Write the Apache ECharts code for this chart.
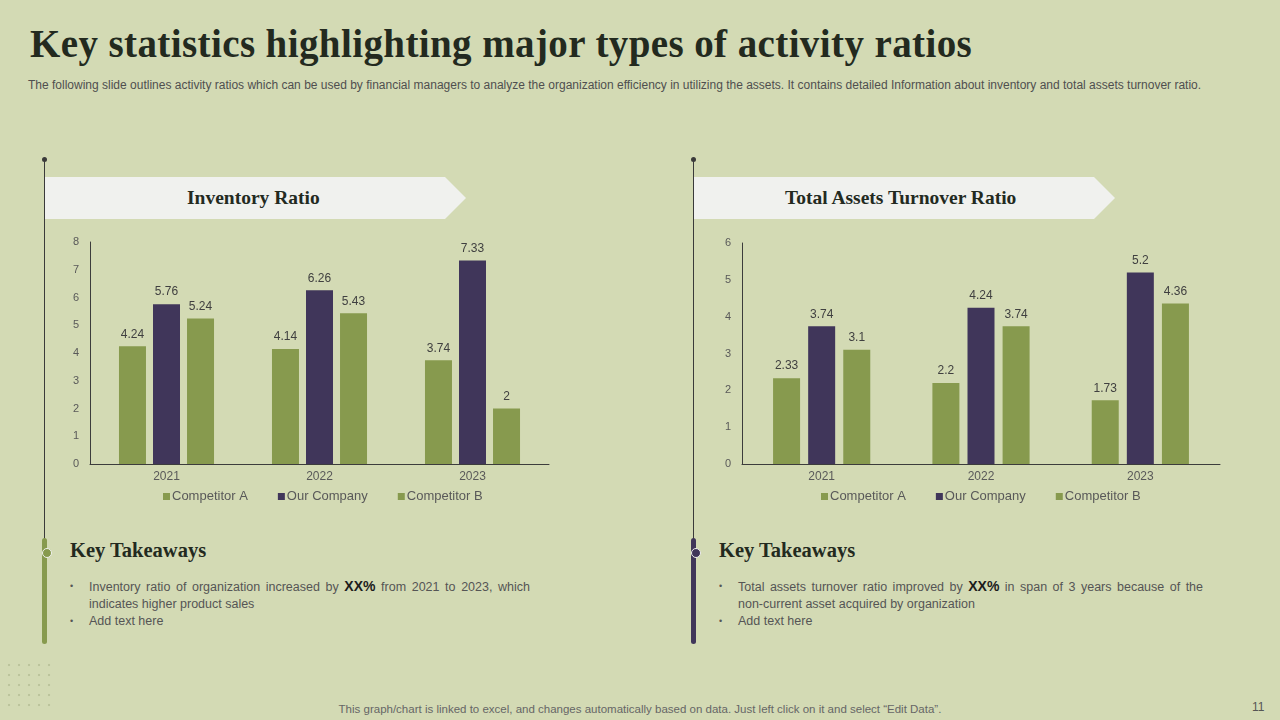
<!DOCTYPE html>
<html>
<head>
<meta charset="utf-8">
<script src="https://cdn.jsdelivr.net/npm/echarts@6/dist/echarts.min.js"></script>
<style>
  html, body { margin: 0; padding: 0; }
  body { width: 1280px; height: 720px; background: #d3dab4; position: relative; overflow: hidden;
         font-family: 'Liberation Sans', Arial, sans-serif; }
  .abs { position: absolute; }
  .serif { font-family: 'Liberation Serif', 'DejaVu Serif', serif; font-weight: bold; color: #232a1f; }
  #title { left: 30px; top: 21px; font-size: 39px; letter-spacing: 0.4px; white-space: nowrap; }
  #subtitle { left: 28px; top: 78px; font-size: 12px; color: #4f4f4f; white-space: nowrap; letter-spacing: 0; }
  .banner { top: 177px; height: 42px; width: 421px; background: #f0f1ee;
            clip-path: polygon(0 0, 400px 0, 421px 50%, 400px 100%, 0 100%); }
  .banner span { position: absolute; top: 10px; font-size: 19.5px; }
  .vline { width: 1px; background: #3a3a3a; top: 160px; height: 385px; }
  .vdot { width: 5px; height: 5px; border-radius: 50%; background: #3a3a3a; top: 157px; }
  .vbar { width: 5px; border-radius: 3px; top: 538px; height: 106px; }
  .kt { top: 539px; font-size: 20.5px; }
  .knob { width: 8px; height: 8px; border-radius: 50%; top: 548px; border: 1px solid #f0f1ee; }
  .bul { top: 578px; font-size: 12.5px; color: #555; line-height: 17px; width: 450px; }
  .bul div { position: relative; padding-left: 19px; text-align: justify; }
  .bul div:before { content: '\2022'; position: absolute; left: 0; font-size: 9px; }
  .bul b { color: #1c1c1c; font-size: 14px; }
  #footer { left: 0; width: 1280px; top: 703px; text-align: center; font-size: 11.5px; color: #666; }
  #pnum { left: 1252px; top: 700px; font-size: 12px; color: #555; }
  #chart { left: 0; top: 0; width: 1280px; height: 720px; }
  .dots { left: 4px; top: 660px; width: 50px; height: 48px;
          background-image: radial-gradient(circle, #bcc49c 1.2px, transparent 1.6px);
          background-size: 10px 10px; }
</style>
</head>
<body>
<div id="title" class="abs serif">Key statistics highlighting major types of activity ratios</div>
<div id="subtitle" class="abs">The following slide outlines activity ratios which can be used by financial managers to analyze the organization efficiency in utilizing the assets. It contains detailed Information about inventory and total assets turnover ratio.</div>

<div class="abs vline" style="left:44px"></div>
<div class="abs vdot" style="left:42px"></div>
<div class="abs vline" style="left:693px"></div>
<div class="abs vdot" style="left:691px"></div>

<div class="abs banner" style="left:45px"><span class="serif" style="left:142px">Inventory Ratio</span></div>
<div class="abs banner" style="left:694px"><span class="serif" style="left:91px">Total Assets Turnover Ratio</span></div>

<div class="abs vbar" style="left:42px; background:#879a4e"></div>
<div class="abs vbar" style="left:691px; background:#40365a"></div>
<div class="abs knob" style="left:42px; background:#879a4e"></div>
<div class="abs knob" style="left:691px; background:#40365a"></div>

<div class="abs kt serif" style="left:70px">Key Takeaways</div>
<div class="abs kt serif" style="left:719px">Key Takeaways</div>

<div class="abs bul" style="left:70px; width:460px">
  <div>Inventory ratio of organization increased by <b>XX%</b> from 2021 to 2023, which indicates higher product sales</div>
  <div>Add text here</div>
</div>
<div class="abs bul" style="left:719px; width:484px">
  <div>Total assets turnover ratio improved by <b>XX%</b> in span of 3 years because of the non-current asset acquired by organization</div>
  <div>Add text here</div>
</div>

<div class="abs dots"></div>
<div id="footer" class="abs">This graph/chart is linked to excel, and changes automatically based on data. Just left click on it and select “Edit Data”.</div>
<div id="pnum" class="abs">11</div>

<div id="chart" class="abs"></div>

<script>
// data
var years = ['2021', '2022', '2023'];
var seriesNames = ['Competitor A', 'Our Company', 'Competitor B'];

var invCompetitorA = [4.24, 4.14, 3.74];
var invOurCompany = [5.76, 6.26, 7.33];
var invCompetitorB = [5.24, 5.43, 2];

var tatCompetitorA = [2.33, 2.2, 1.73];
var tatOurCompany = [3.74, 4.24, 5.2];
var tatCompetitorB = [3.1, 3.74, 4.36];

var green = '#879a4e';
var purple = '#40365a';
var textGray = '#595959';

var chart = echarts.init(document.getElementById('chart'), null, {renderer: 'canvas'});

function xAxisFor(idx) {
    return {
        type: 'category',
        gridIndex: idx,
        data: years,
        axisLine: {lineStyle: {color: '#3c3c3c', width: 1}},
        axisTick: {show: false},
        axisLabel: {color: textGray, fontSize: 12, margin: 7, fontFamily: 'Liberation Sans'}
    };
}
function yAxisFor(idx, max) {
    return {
        type: 'value',
        gridIndex: idx,
        min: 0,
        max: max,
        interval: 1,
        axisLine: {show: true, lineStyle: {color: '#3c3c3c', width: 1}},
        axisTick: {show: false},
        splitLine: {show: false},
        axisLabel: {color: textGray, fontSize: 11, margin: 11, fontFamily: 'Liberation Sans'}
    };
}
function barSeries(name, data, color, idx, gap) {
    return {
        name: name,
        type: 'bar',
        xAxisIndex: idx,
        yAxisIndex: idx,
        data: data,
        barWidth: 27,
        barGap: gap,
        itemStyle: {color: color},
        label: {
            show: true,
            position: 'top',
            distance: 6,
            color: '#404040',
            fontSize: 12,
            fontFamily: 'Liberation Sans'
        }
    };
}
function legendFor(left) {
    return {
        data: seriesNames,
        left: left,
        top: 485,
        icon: 'rect',
        itemWidth: 7,
        itemHeight: 7,
        itemGap: 30,
        textStyle: {color: textGray, fontSize: 13, fontFamily: 'Liberation Sans', padding: [0, 0, 0, -3]}
    };
}

var option = {
    animation: false,
    grid: [
        {left: 90, top: 242, width: 459, height: 222},
        {left: 742, top: 243, width: 478, height: 221}
    ],
    legend: [legendFor(158), legendFor(816)],
    xAxis: [xAxisFor(0), xAxisFor(1)],
    yAxis: [yAxisFor(0, 8), yAxisFor(1, 6)],
    series: [
        barSeries('Competitor A', invCompetitorA, green, 0, '26%'),
        barSeries('Our Company', invOurCompany, purple, 0, '26%'),
        barSeries('Competitor B', invCompetitorB, green, 0, '26%'),
        barSeries('Competitor A', tatCompetitorA, green, 1, '30%'),
        barSeries('Our Company', tatOurCompany, purple, 1, '30%'),
        barSeries('Competitor B', tatCompetitorB, green, 1, '30%')
    ]
};

chart.setOption(option);
</script>
</body>
</html>
